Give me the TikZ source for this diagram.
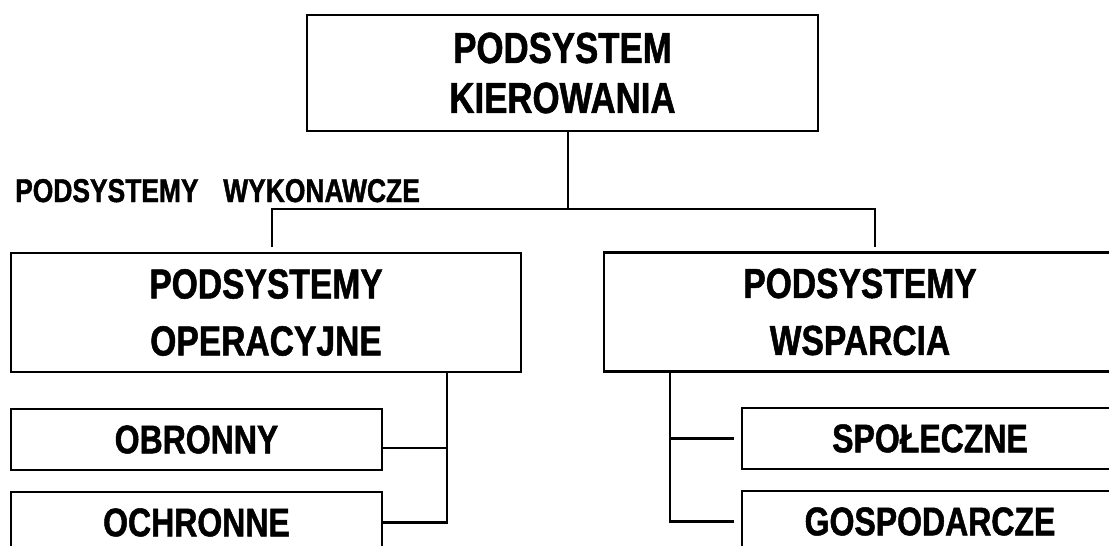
\documentclass[tikz,border=0pt]{standalone}
\usepackage{fontspec}
\newfontfamily\diafont[FakeStretch=0.80,FakeBold=1.2]{Liberation Sans}
\usetikzlibrary{calc}
\tikzset{
  box/.style={draw, line width=2.5pt, rectangle, inner sep=0pt, align=center, text=black},
  topbox/.style={box, minimum width=511pt, minimum height=116pt, font=\diafont\bfseries\fontsize{43.5}{50}\selectfont},
  bigbox/.style={box, minimum width=510pt, minimum height=119pt, font=\diafont\bfseries\fontsize{42}{57}\selectfont},
  smallbox/.style={box, minimum width=372pt, minimum height=61pt, font=\diafont\bfseries\fontsize{40}{43}\selectfont},
  wire/.style={line width=2.5pt, line join=miter},
  lbl/.style={inner sep=0pt, anchor=base west, font=\diafont\bfseries\fontsize{33}{37}\selectfont}
}
\begin{document}
\begin{tikzpicture}[x=1pt,y=-1pt]
\useasboundingbox (0,0) rectangle (1109,546);
\clip (0,0) rectangle (1109,546);
\fill[white] (0,0) rectangle (1109,546);

\node[topbox] (top) at (562.5,73) {PODSYSTEM\\KIEROWANIA};
\node[lbl] (label) at (15,202) {PODSYSTEMY\hspace{0.75em}WYKONAWCZE};

\node[bigbox] (lbig) at (266,312.5) {PODSYSTEMY\\OPERACYJNE};
\node[bigbox, minimum width=512pt] (rbig) at (860,312) {PODSYSTEMY\\WSPARCIA};

\node[smallbox, minimum width=371pt] (obr) at (196.5,439.5) {OBRONNY};
\node[smallbox, minimum width=371pt] (och) at (196.5,522.5) {OCHRONNE};
\node[smallbox, minimum width=376pt] (spo) at (930,438.5) {SPOŁECZNE};
\node[smallbox, minimum width=376pt] (gos) at (930,521.5) {GOSPODARCZE};

% top bus
\coordinate (bus) at (568,209);
\coordinate (ldrop) at (272,247);
\coordinate (rdrop) at (875,247);
\draw[wire] (top.south -| bus) -- (bus);
\draw[wire] (ldrop) |- (bus) -| (rdrop);

% left bracket
\coordinate (lb) at (447,0);
\draw[wire] (lbig.south -| lb) |- (och.east);
\draw[wire] ([yshift=-8.5pt]obr.east) -- ([yshift=-8.5pt]obr.east -| lb);

% right bracket
\coordinate (rb) at (670,0);
\draw[wire] (rbig.south -| rb) |- ([xshift=-7pt]gos.west);
\draw[wire] (spo.west -| rb) -- ([xshift=-7pt]spo.west);
\end{tikzpicture}
\end{document}
